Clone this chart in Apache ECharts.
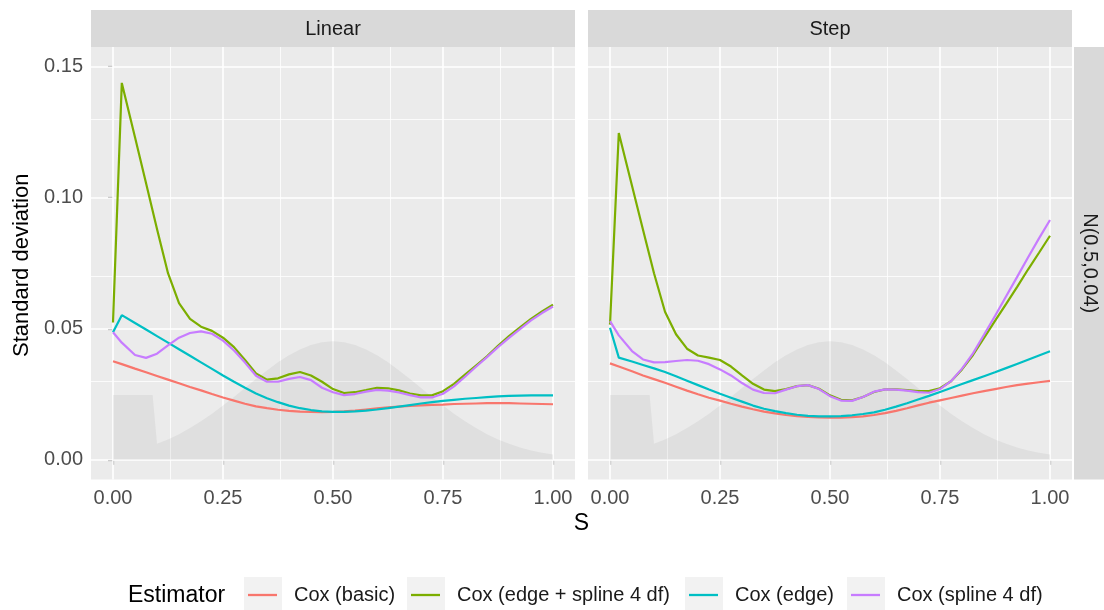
<!DOCTYPE html>
<html>
<head>
<meta charset="utf-8">
<script src="https://cdn.jsdelivr.net/npm/echarts@6/dist/echarts.min.js"></script>
<style>
  html, body { margin: 0; padding: 0; background: #ffffff; }
  #chart { width: 1104px; height: 610px; }
</style>
</head>
<body>
<div id="chart"></div>
<script>
// ---- data -------------------------------------------------------------
const panels = ['Linear', 'Step'];
const rowLabel = 'N(0.5,0.04)';
const estimators = ['Cox (basic)', 'Cox (edge + spline 4 df)', 'Cox (edge)', 'Cox (spline 4 df)'];
const colors = ['#F8766D', '#7CAE00', '#00BFC4', '#C77CFF'];

// evaluation points on S
const sGrid = [0, 0.02, 0.05, 0.075, 0.1, 0.125, 0.15, 0.175, 0.2, 0.225, 0.25, 0.275, 0.3, 0.325,
  0.35, 0.375, 0.4, 0.425, 0.45, 0.475, 0.5, 0.525, 0.55, 0.575, 0.6, 0.625, 0.65, 0.675, 0.7,
  0.725, 0.75, 0.775, 0.8, 0.825, 0.85, 0.875, 0.9, 0.925, 0.95, 0.975, 1.0];

// Linear panel
const linearBasic = [0.0376, 0.0365, 0.0348, 0.0334, 0.0320, 0.0306, 0.0292, 0.0278, 0.0265, 0.0251,
  0.0238, 0.0226, 0.0214, 0.0204, 0.0197, 0.0191, 0.0187, 0.0184, 0.0183, 0.0182, 0.0183, 0.0185,
  0.0188, 0.0192, 0.0196, 0.0200, 0.0203, 0.0206, 0.0208, 0.0210, 0.0211, 0.0213, 0.0214, 0.0215,
  0.0216, 0.0216, 0.0216, 0.0215, 0.0214, 0.0213, 0.0212];
const linearEdgeSpline = [0.0524, 0.1438, 0.1231, 0.1056, 0.0881, 0.0712, 0.0598, 0.0538, 0.0508,
  0.0492, 0.0466, 0.0430, 0.0381, 0.0330, 0.0306, 0.0311, 0.0326, 0.0335, 0.0322, 0.0298, 0.0270,
  0.0255, 0.0258, 0.0266, 0.0275, 0.0273, 0.0265, 0.0253, 0.0246, 0.0246, 0.0262, 0.0290, 0.0325,
  0.0360, 0.0395, 0.0435, 0.0472, 0.0505, 0.0538, 0.0566, 0.0592];
const linearEdge = [0.0487, 0.0552, 0.0522, 0.0497, 0.0472, 0.0447, 0.0422, 0.0397, 0.0372, 0.0347,
  0.0322, 0.0298, 0.0275, 0.0253, 0.0235, 0.0220, 0.0207, 0.0197, 0.0190, 0.0185, 0.0183, 0.0183,
  0.0185, 0.0188, 0.0192, 0.0197, 0.0203, 0.0209, 0.0215, 0.0220, 0.0225, 0.0229, 0.0233, 0.0236,
  0.0239, 0.0242, 0.0244, 0.0245, 0.0246, 0.0246, 0.0246];
const linearSpline = [0.0487, 0.0447, 0.0400, 0.0389, 0.0405, 0.0437, 0.0466, 0.0484, 0.0490, 0.0481,
  0.0455, 0.0417, 0.0371, 0.0321, 0.0298, 0.0298, 0.0309, 0.0316, 0.0304, 0.0275, 0.0258, 0.0247,
  0.0251, 0.0260, 0.0267, 0.0264, 0.0257, 0.0247, 0.0238, 0.0238, 0.0252, 0.0280, 0.0317, 0.0355,
  0.0392, 0.0430, 0.0465, 0.0499, 0.0532, 0.0560, 0.0585];

// Step panel
const stepBasic = [0.0368, 0.0356, 0.0338, 0.0322, 0.0308, 0.0294, 0.0279, 0.0264, 0.0250, 0.0237,
  0.0226, 0.0214, 0.0203, 0.0193, 0.0184, 0.0177, 0.0171, 0.0167, 0.0164, 0.0162, 0.0161, 0.0161,
  0.0163, 0.0166, 0.0171, 0.0178, 0.0187, 0.0197, 0.0208, 0.0218, 0.0227, 0.0236, 0.0245, 0.0254,
  0.0262, 0.0270, 0.0278, 0.0285, 0.0291, 0.0296, 0.0301];
const stepEdgeSpline = [0.0516, 0.1247, 0.1046, 0.0878, 0.0712, 0.0565, 0.0479, 0.0424, 0.0398,
  0.0390, 0.0381, 0.0356, 0.0322, 0.0290, 0.0268, 0.0262, 0.0270, 0.0281, 0.0285, 0.0271, 0.0246,
  0.0229, 0.0227, 0.0240, 0.0259, 0.0269, 0.0269, 0.0266, 0.0262, 0.0262, 0.0273, 0.0300, 0.0345,
  0.0400, 0.0465, 0.0530, 0.0594, 0.0659, 0.0726, 0.0790, 0.0855];
const stepEdge = [0.0504, 0.0390, 0.0375, 0.0362, 0.0349, 0.0335, 0.0319, 0.0302, 0.0285, 0.0268,
  0.0252, 0.0237, 0.0222, 0.0207, 0.0195, 0.0186, 0.0178, 0.0172, 0.0168, 0.0166, 0.0166, 0.0167,
  0.0170, 0.0175, 0.0181, 0.0191, 0.0203, 0.0216, 0.0230, 0.0244, 0.0259, 0.0274, 0.0289, 0.0304,
  0.0319, 0.0334, 0.0350, 0.0366, 0.0382, 0.0398, 0.0414];
const stepSpline = [0.0529, 0.0475, 0.0415, 0.0383, 0.0372, 0.0373, 0.0377, 0.0381, 0.0378, 0.0365,
  0.0345, 0.0322, 0.0293, 0.0268, 0.0255, 0.0254, 0.0268, 0.0281, 0.0285, 0.0270, 0.0243, 0.0226,
  0.0225, 0.0240, 0.0260, 0.0269, 0.0268, 0.0264, 0.0258, 0.0256, 0.0270, 0.0300, 0.0348, 0.0406,
  0.0477, 0.0549, 0.0623, 0.0697, 0.0772, 0.0845, 0.0915];

// background profile of S (shaded area)
const shadeS = [0, 0.09, 0.1, 0.125, 0.15, 0.175, 0.2, 0.225, 0.25, 0.275, 0.3, 0.325, 0.35, 0.375,
  0.4, 0.425, 0.45, 0.475, 0.5, 0.525, 0.55, 0.575, 0.6, 0.625, 0.65, 0.675, 0.7, 0.725, 0.75,
  0.775, 0.8, 0.825, 0.85, 0.875, 0.9, 0.925, 0.95, 0.975, 1.0];
const shadeHeight = [0.0247, 0.0247, 0.0061, 0.0078, 0.0098, 0.0121, 0.0147, 0.0176, 0.0207, 0.0240,
  0.0274, 0.0308, 0.0341, 0.0372, 0.0399, 0.0421, 0.0438, 0.0449, 0.0452, 0.0449, 0.0438, 0.0421,
  0.0399, 0.0372, 0.0341, 0.0308, 0.0274, 0.0240, 0.0207, 0.0176, 0.0147, 0.0121, 0.0098, 0.0078,
  0.0061, 0.0047, 0.0036, 0.0027, 0.0020];

// axis breaks
const sMajor = [0, 0.25, 0.5, 0.75, 1];
const sMinor = [0.125, 0.375, 0.625, 0.875];
const sdMajor = [0, 0.05, 0.1, 0.15];
const sdMinor = [0.025, 0.075, 0.125];

const panelSeries = [
  [linearBasic, linearEdgeSpline, linearEdge, linearSpline],
  [stepBasic, stepEdgeSpline, stepEdge, stepSpline]
];

// ---- layout -----------------------------------------------------------
const FONT = 'Liberation Sans, Arial, sans-serif';
const SMALL = 20, TITLE = 23;
const PANEL_TOP = 47, PANEL_H = 432.5, PANEL_W = 484;
const panelLeft = [91, 588];
const STRIP_TOP = 10, STRIP_H = 37;
const keyLeft = [244, 407, 685, 847];
const KEY_TOP = 577, KEY_W = 38, KEY_H = 35;

const pairs = (xs, ys) => xs.map((x, i) => [x, ys[i]]);
const fmt2 = v => Number(v).toFixed(2);

const gridLineData = [
  ...sMajor.map(v => ({ xAxis: v, lineStyle: { width: 1.6 } })),
  ...sMinor.map(v => ({ xAxis: v, lineStyle: { width: 0.8 } })),
  ...sdMajor.map(v => ({ yAxis: v, lineStyle: { width: 1.6 } })),
  ...sdMinor.map(v => ({ yAxis: v, lineStyle: { width: 0.8 } }))
];

const grids = panelLeft.map(left => ({
  left: left, top: PANEL_TOP, width: PANEL_W, height: PANEL_H,
  show: true, backgroundColor: '#EBEBEB', borderWidth: 0,
  containLabel: false, outerBoundsMode: 'none'
}));

const xAxes = panelLeft.map((_, p) => ({
  type: 'value', gridIndex: p, min: -0.05, max: 1.05,
  axisLine: { show: false },
  splitLine: { show: false },
  axisTick: { show: true, customValues: sMajor, length: 5, lineStyle: { color: '#333333', width: 1.1 } },
  axisLabel: { show: true, customValues: sMajor, formatter: fmt2, margin: 9,
    color: '#4D4D4D', fontSize: SMALL, fontFamily: FONT }
}));

const yAxes = panelLeft.map((_, p) => ({
  type: 'value', gridIndex: p, min: -0.0075, max: 0.1575,
  axisLine: { show: false },
  splitLine: { show: false },
  axisTick: { show: p === 0, customValues: sdMajor, length: 5, lineStyle: { color: '#333333', width: 1.1 } },
  axisLabel: { show: p === 0, customValues: sdMajor, formatter: fmt2, margin: 8,
    color: '#4D4D4D', fontSize: SMALL, fontFamily: FONT }
}));

const series = [];
panels.forEach((name, p) => {
  series.push({
    type: 'line', name: 'shade-' + name, xAxisIndex: p, yAxisIndex: p,
    data: pairs(shadeS, shadeHeight), showSymbol: false, symbol: 'none', silent: true, z: 2,
    lineStyle: { width: 0, opacity: 0 },
    areaStyle: { color: 'rgba(128,128,128,0.16)' },
    markLine: {
      silent: true, z: 1, symbol: ['none', 'none'], label: { show: false },
      lineStyle: { color: '#FFFFFF', type: 'solid' },
      emphasis: { disabled: true },
      data: gridLineData, animation: false
    }
  });
  panelSeries[p].forEach((vals, i) => {
    series.push({
      type: 'line', name: estimators[i], xAxisIndex: p, yAxisIndex: p,
      data: pairs(sGrid, vals), showSymbol: false, symbol: 'none', z: 3,
      itemStyle: { color: colors[i] },
      lineStyle: { color: colors[i], width: 2.2 },
      emphasis: { disabled: true }
    });
  });
});

const legends = estimators.map((name, i) => ({
  data: [name], left: keyLeft[i] + 4, top: 585, orient: 'horizontal',
  icon: 'rect', itemWidth: 29, itemHeight: 2.3, itemGap: 0, padding: 0,
  selectedMode: false,
  textStyle: { fontFamily: FONT, fontSize: SMALL, color: '#1A1A1A', padding: [0, 0, 0, 12] }
}));

const graphic = [];
panels.forEach((name, p) => {
  graphic.push({ type: 'rect', silent: true, z: 0,
    shape: { x: panelLeft[p], y: STRIP_TOP, width: PANEL_W, height: STRIP_H },
    style: { fill: '#D9D9D9' } });
  graphic.push({ type: 'text', silent: true, z: 1,
    x: panelLeft[p] + PANEL_W / 2, y: STRIP_TOP + STRIP_H / 2 + 1,
    style: { text: name, align: 'center', verticalAlign: 'middle',
      fill: '#1A1A1A', font: SMALL + 'px ' + FONT } });
});
graphic.push({ type: 'rect', silent: true, z: 0,
  shape: { x: 1074, y: PANEL_TOP, width: 37, height: PANEL_H },
  style: { fill: '#D9D9D9' } });
graphic.push({ type: 'text', silent: true, z: 1, x: 1090, y: PANEL_TOP + PANEL_H / 2,
  rotation: -Math.PI / 2,
  style: { text: rowLabel, align: 'center', verticalAlign: 'middle',
    fill: '#1A1A1A', font: SMALL + 'px ' + FONT } });
graphic.push({ type: 'text', silent: true, z: 1, x: 22, y: PANEL_TOP + PANEL_H / 2 + 2,
  rotation: Math.PI / 2,
  style: { text: 'Standard deviation', align: 'center', verticalAlign: 'middle',
    fill: '#000000', font: '22px ' + FONT } });
graphic.push({ type: 'text', silent: true, z: 1, x: (panelLeft[0] + panelLeft[1] + PANEL_W) / 2, y: 524,
  style: { text: 'S', align: 'center', verticalAlign: 'middle',
    fill: '#000000', font: TITLE + 'px ' + FONT } });
graphic.push({ type: 'text', silent: true, z: 1, x: 128, y: 596,
  style: { text: 'Estimator', align: 'left', verticalAlign: 'middle',
    fill: '#000000', font: TITLE + 'px ' + FONT } });
keyLeft.forEach(x => {
  graphic.push({ type: 'rect', silent: true, z: 0,
    shape: { x: x, y: KEY_TOP, width: KEY_W, height: KEY_H },
    style: { fill: '#F2F2F2' } });
});

const chart = echarts.init(document.getElementById('chart'), null, { renderer: 'canvas' });
chart.setOption({
  animation: false,
  backgroundColor: '#FFFFFF',
  textStyle: { fontFamily: FONT },
  grid: grids,
  xAxis: xAxes,
  yAxis: yAxes,
  legend: legends,
  graphic: graphic,
  series: series
});
</script>
</body>
</html>
